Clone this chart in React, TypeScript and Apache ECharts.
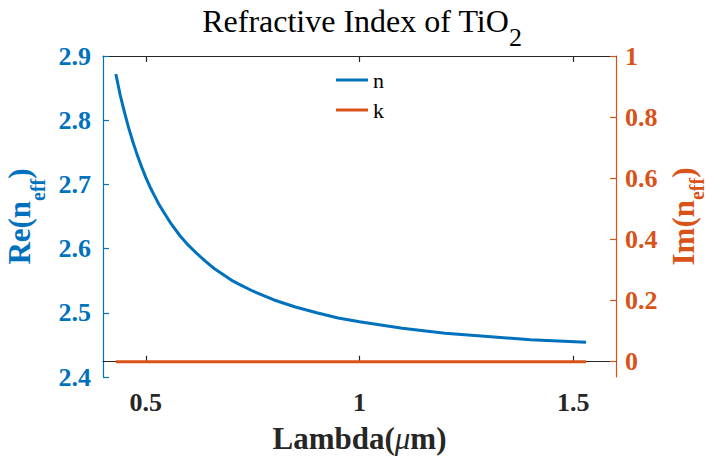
import React, { useEffect, useRef } from "react";
import * as echarts from "echarts";

// Wavelength (µm) and real refractive index n of TiO2
const lambdaN = [0.43, 0.44, 0.45, 0.46, 0.47, 0.48, 0.49, 0.5, 0.51, 0.52, 0.53, 0.54, 0.56, 0.58, 0.6, 0.62, 0.64, 0.66, 0.68, 0.7, 0.72, 0.75, 0.8, 0.85, 0.9, 0.95, 1.0, 1.1, 1.2, 1.3, 1.4, 1.53];
const nValues = [2.872, 2.840, 2.813, 2.788, 2.766, 2.746, 2.728, 2.711, 2.696, 2.683, 2.670, 2.659, 2.638, 2.620, 2.605, 2.592, 2.580, 2.569, 2.560, 2.551, 2.544, 2.534, 2.520, 2.509, 2.500, 2.492, 2.486, 2.476, 2.468, 2.463, 2.458, 2.454];

// Extinction coefficient k (lossless over the range)
const lambdaK = [0.43, 1.53];
const kValues = [0, 0];

const xTicks = [0.5, 1, 1.5];
const rightTicks = [0, 0.2, 0.4, 0.6, 0.8, 1];

const BLUE = "#0072BD";
const ORANGE = "#D95319";
const DARK = "#262626";
const FONT = "'Liberation Serif', 'Times New Roman', serif";

export default function App() {
  const ref = useRef<HTMLDivElement>(null);

  useEffect(() => {
    if (!ref.current) return;
    const chart = echarts.init(ref.current, null, { renderer: "svg" });

    // Axis title with a subscript: main text top-aligned, subscript dropped by padding
    const nameRich = (color: string, lineHeight: number, drop: number) => ({
      m: { fontFamily: FONT, fontWeight: "bold", fontSize: 31, color, lineHeight, verticalAlign: "top" },
      s: { fontFamily: FONT, fontWeight: "bold", fontSize: 20, color, lineHeight, verticalAlign: "top", padding: [drop, 0, 0, 0] },
    });

    const tickLabel = (color: string) => ({
      fontFamily: FONT,
      fontWeight: "bold",
      fontSize: 26,
      color,
    });

    chart.setOption({
      animation: false,
      backgroundColor: "#ffffff",
      title: {
        text: "{a|Refractive Index of TiO}{b|2}",
        left: 362,
        textAlign: "center",
        top: 5,
        padding: 0,
        textStyle: {
          fontFamily: FONT,
          fontWeight: "normal",
          rich: {
            a: { fontFamily: FONT, fontWeight: "normal", fontSize: 32, color: "#000", lineHeight: 52, verticalAlign: "top" },
            b: { fontFamily: FONT, fontWeight: "normal", fontSize: 26, color: "#000", lineHeight: 52, verticalAlign: "top", padding: [19, 0, 0, 0] },
          },
        },
      },
      legend: {
        data: ["n", "k"],
        orient: "vertical",
        left: 336,
        top: 69,
        padding: 0,
        icon: "rect",
        itemWidth: 32,
        itemHeight: 3,
        itemGap: 8,
        textStyle: { fontFamily: FONT, fontSize: 22, color: "#000" },
      },
      grid: { left: 103, right: 91, top: 56, bottom: 80, containLabel: false, outerBoundsMode: "none" },
      xAxis: [
        {
          type: "value",
          min: 0.4,
          max: 1.6,
          position: "bottom",
          axisLine: { lineStyle: { color: DARK, width: 1.2 } },
          axisTick: { inside: true, length: 6, customValues: xTicks, lineStyle: { color: DARK, width: 1.2 } },
          axisLabel: { customValues: xTicks, formatter: (v: number) => String(v), margin: 12, ...tickLabel(DARK) },
          splitLine: { show: false },
          name: "{b|Lambda(}{u|μ}{b|m)}",
          nameLocation: "middle",
          nameGap: 46,
          nameTextStyle: {
            fontFamily: FONT,
            rich: {
              b: { fontFamily: FONT, fontWeight: "bold", fontSize: 31, color: DARK },
              u: { fontFamily: FONT, fontStyle: "italic", fontWeight: "normal", fontSize: 31, color: DARK },
            },
          },
        },
        {
          type: "value",
          min: 0.4,
          max: 1.6,
          position: "top",
          axisLine: { lineStyle: { color: DARK, width: 1.2 } },
          axisTick: { inside: true, length: 6, customValues: xTicks, lineStyle: { color: DARK, width: 1.2 } },
          axisLabel: { show: false },
          splitLine: { show: false },
        },
      ],
      yAxis: [
        {
          type: "value",
          min: 2.4,
          max: 2.9,
          interval: 0.1,
          position: "left",
          axisLine: { show: true, lineStyle: { color: BLUE, width: 1.2 } },
          axisTick: { show: true, inside: true, length: 6, lineStyle: { color: BLUE, width: 1.2 } },
          axisLabel: { formatter: (v: number) => v.toFixed(1), margin: 12, ...tickLabel(BLUE) },
          splitLine: { show: false },
          name: "{m|Re(n}{s|eff}{m|)}",
          nameLocation: "middle",
          nameRotate: 90,
          nameGap: 36,
          nameTextStyle: { fontFamily: FONT, rich: nameRich(BLUE, 50, 24) },
        },
        {
          type: "value",
          min: -0.05,
          max: 1,
          position: "right",
          axisLine: { show: true, lineStyle: { color: ORANGE, width: 1.2 } },
          axisTick: { show: true, inside: true, length: 6, customValues: rightTicks, lineStyle: { color: ORANGE, width: 1.2 } },
          axisLabel: {
            customValues: rightTicks,
            formatter: (v: number) => String(Math.round(v * 10) / 10),
            margin: 9,
            ...tickLabel(ORANGE),
          },
          splitLine: { show: false },
          name: "{m|Im(n}{s|eff}{m|)}",
          nameLocation: "middle",
          nameRotate: 90,
          nameGap: 45,
          nameTextStyle: { fontFamily: FONT, rich: nameRich(ORANGE, 40, 19) },
        },
      ],
      series: [
        {
          name: "n",
          type: "line",
          xAxisIndex: 0,
          yAxisIndex: 0,
          data: lambdaN.map((x, i) => [x, nValues[i]]),
          smooth: false,
          showSymbol: false,
          symbol: "none",
          color: BLUE,
          lineStyle: { color: BLUE, width: 3, join: "round", cap: "butt" },
        },
        {
          name: "k",
          type: "line",
          xAxisIndex: 0,
          yAxisIndex: 1,
          data: lambdaK.map((x, i) => [x, kValues[i]]),
          showSymbol: false,
          symbol: "none",
          color: ORANGE,
          lineStyle: { color: ORANGE, width: 3 },
        },
      ],
    });

    return () => chart.dispose();
  }, []);

  return (
    <div
      ref={ref}
      style={{ position: "fixed", left: 0, top: 0, width: 707, height: 457, background: "#fff" }}
    />
  );
}
